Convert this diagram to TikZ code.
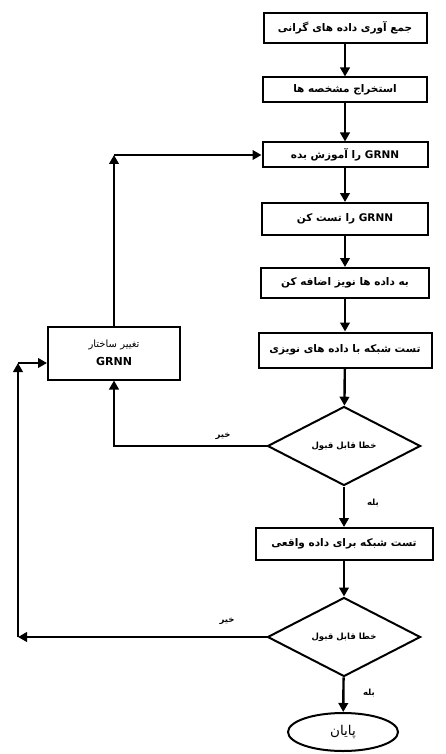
\documentclass[tikz,border=0pt]{standalone}
\usepackage{fontspec}
\TeXXeTstate=1
\newfontfamily\arabicfont[Script=Arabic]{DejaVu Sans}
\usetikzlibrary{shapes.geometric,arrows.meta}
\newcommand{\fatext}[1]{\beginR #1\endR}
\newcommand{\grnn}{\beginL\textbf{GRNN}\endL}

\begin{document}
\begin{tikzpicture}[x=1pt,y=-1pt,
box/.style={rectangle,draw=black,line width=2pt,fill=white,minimum height=28pt,inner sep=2pt,align=center,font=\arabicfont\bfseries\fontsize{10.5}{12}\selectfont},
decision/.style={diamond,draw=black,line width=2pt,fill=white,minimum width=153pt,minimum height=79pt,inner sep=0pt,font=\arabicfont\bfseries\fontsize{8.5}{10}\selectfont},
terminal/.style={ellipse,draw=black,line width=2pt,fill=white,minimum width=110pt,minimum height=38pt,font=\arabicfont\fontsize{13.5}{15}\selectfont},
answer/.style={font=\arabicfont\bfseries\fontsize{8.5}{10}\selectfont,inner sep=1pt},
flow/.style={line width=2.4pt,-{Triangle[length=9pt,width=9.5pt]}},
]
\useasboundingbox (0,0) rectangle (446,754);

% Hauptablauf
\node[box,minimum width=163pt,minimum height=30pt] (collect) at (345,28) {\fatext{جمع آوری داده های گرانی}};
\node[box,minimum width=164pt,minimum height=25pt] (extract) at (345,90) {\fatext{استخراج مشخصه ها}};
\node[box,minimum width=165pt,minimum height=25pt] (train) at (345,155) {\fatext{\grnn{} را آموزش بده}};
\node[box,minimum width=166pt,minimum height=32pt] (test) at (345,219) {\fatext{\grnn{} را تست کن}};
\node[box,minimum width=168pt,minimum height=30pt] (noise) at (345,283) {\fatext{به داده ها نویز اضافه کن}};
\node[box,minimum width=173pt,minimum height=35pt] (noisytest) at (345,350) {\fatext{تست شبکه با داده های نویزی}};
\node[decision] (check1) at (344,446) {\fatext{خطا قابل قبول}};
\node[box,minimum width=177pt,minimum height=32pt] (realtest) at (344,544) {\fatext{تست شبکه برای داده واقعی}};
\node[decision] (check2) at (344,637) {\fatext{خطا قابل قبول}};
\node[terminal] (finish) at (343,732) {\fatext{پایان}};

% Struktur ändern
\node[box,minimum width=132pt,minimum height=53pt,font=\arabicfont\fontsize{10}{12}\selectfont] (change) at (114,353) {\fatext{تغییر ساختار}\\[6pt]{\fontsize{11}{12}\selectfont\grnn}};

\node[answer] (yes1) at (373,503) {\fatext{بله}};
\node[answer] (no1) at (223,436) {\fatext{خیر}};
\node[answer] (yes2) at (369,693) {\fatext{بله}};
\node[answer] (no2) at (227,621) {\fatext{خیر}};

\coordinate (backtop) at (change.north |- train.west);
\coordinate (loopcorner) at (18,637);
\coordinate (looptop) at (18,363);

\path[flow] (collect) edge (extract)
            (extract) edge (train)
            (train) edge (test)
            (test) edge (noise)
            (noise) edge (noisytest)
            (noisytest) edge (check1)
            (check1) edge (realtest)
            (realtest) edge (check2)
            (check2) edge (finish);

\draw[flow] (check1.west) -| (change.south);
\draw[flow] (change.north) -- (backtop);
\draw[flow] (backtop) -- (train.west);
\draw[flow] (check2.west) -- (loopcorner);
\draw[flow] (loopcorner) -- (looptop);
\draw[flow] (looptop) -- (looptop -| change.west);

\end{tikzpicture}
\end{document}
